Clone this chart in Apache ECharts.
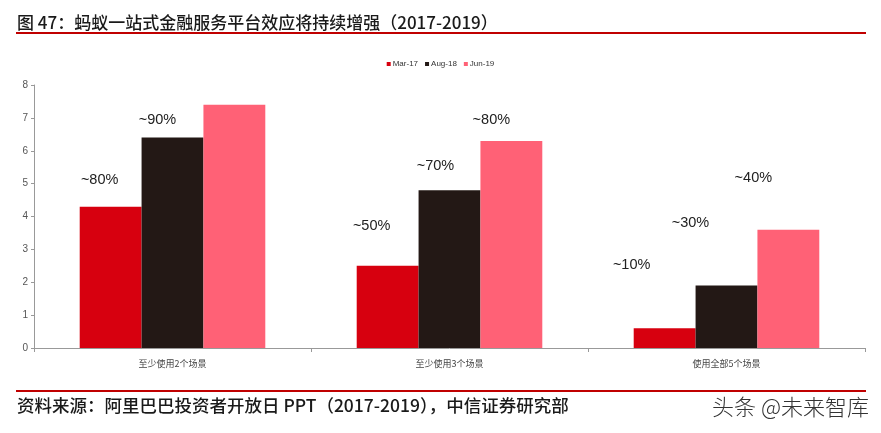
<!DOCTYPE html>
<html>
<head>
<meta charset="utf-8">
<script src="https://cdn.jsdelivr.net/npm/echarts@6/dist/echarts.min.js"></script>
<style>
html,body{margin:0;padding:0;background:#fff;}
#c{width:881px;height:433px;}
</style>
</head>
<body>
<div id="c"></div>
<script>
const categories = ['至少使用2个场景', '至少使用3个场景', '使用全部5个场景'];
const seriesNames = ['Mar-17', 'Aug-18', 'Jun-19'];
const mar17 = [4.3, 2.5, 0.6];
const aug18 = [6.4, 4.8, 1.9];
const jun19 = [7.4, 6.3, 3.6];
const mar17Labels = ['~80%', '~50%', '~10%'];
const aug18Labels = ['~90%', '~70%', '~30%'];
const jun19Labels = ['', '~80%', '~40%'];
const yTicks = [0, 1, 2, 3, 4, 5, 6, 7, 8];

// label placement offsets (styling only)
const offsets = [
  [[-11, -14], [-16, -27], [-33, -51]],
  [[-15, -5], [-14, -12], [-36, -50]],
  [[0, 0], [-20, -8], [-35, -39]]
];
const colors = ['#D7000F', '#231815', '#FF6176'];
const narrow = "'Liberation Sans Narrow', 'Arial Narrow', 'Liberation Sans', Arial, sans-serif";

function makeSeries(idx, values, labels) {
  return {
    name: seriesNames[idx],
    type: 'bar',
    barGap: '0%',
    barCategoryGap: '33%',
    itemStyle: { color: colors[idx] },
    emphasis: { disabled: true },
    data: values.map((v, i) => ({
      value: v,
      label: {
        show: labels[i] !== '',
        position: 'top',
        distance: 5,
        offset: offsets[idx][i],
        formatter: () => labels[i],
        fontSize: 14.5,
        fontFamily: narrow,
        color: '#222'
      }
    }))
  };
}

const chart = echarts.init(document.getElementById('c'), null, { renderer: 'canvas' });
chart.setOption({
  animation: false,
  backgroundColor: '#fff',
  title: {
    text: '图 47：蚂蚁一站式金融服务平台效应将持续增强（2017-2019）',
    left: 12,
    top: 9,
    textStyle: {
      fontSize: 17,
      fontWeight: 500,
      color: '#1a1a1a',
      fontFamily: "'Noto Sans CJK SC', 'Liberation Sans', sans-serif"
    }
  },
  legend: {
    top: 55,
    left: 'center',
    itemWidth: 4,
    itemHeight: 4,
    itemGap: 7,
    icon: 'rect',
    selectedMode: false,
    textStyle: { fontSize: 8, color: '#333', fontFamily: narrow, padding: [0, 0, 0, -3] },
    data: seriesNames
  },
  grid: { left: 34, right: 16, top: 85, bottom: 85, containLabel: false },
  xAxis: {
    type: 'category',
    data: categories,
    axisLine: { lineStyle: { color: '#999', width: 1 } },
    axisTick: { show: true, length: 4, lineStyle: { color: '#999' } },
    axisLabel: {
      fontSize: 9,
      color: '#444',
      margin: 11,
      fontFamily: "'Noto Sans CJK SC', sans-serif"
    }
  },
  yAxis: {
    type: 'value',
    min: yTicks[0],
    max: yTicks[yTicks.length - 1],
    interval: 1,
    splitLine: { show: false },
    axisLine: { show: true, lineStyle: { color: '#999', width: 1 } },
    axisTick: { show: true, length: 3, lineStyle: { color: '#999' } },
    axisLabel: { fontSize: 10, color: '#555', margin: 6, fontFamily: narrow }
  },
  graphic: [
    { type: 'rect', shape: { x: 16, y: 32, width: 850, height: 2 }, style: { fill: '#C00000' }, silent: true },
    { type: 'rect', shape: { x: 16, y: 390, width: 850, height: 2 }, style: { fill: '#C00000' }, silent: true },
    {
      type: 'text', left: 17, top: 397, silent: true,
      style: {
        text: '资料来源：阿里巴巴投资者开放日 PPT（2017-2019），中信证券研究部',
        fontSize: 17.5, fill: '#1a1a1a', fontWeight: 500,
        fontFamily: "'Noto Sans CJK SC', 'Liberation Sans', sans-serif"
      }
    },
    {
      type: 'text', right: 12, top: 396, silent: true,
      style: {
        text: '头条 @未来智库',
        fontSize: 22, fill: '#333', fontWeight: 300,
        fontFamily: "'Noto Sans CJK SC', sans-serif"
      }
    }
  ],
  series: [
    makeSeries(0, mar17, mar17Labels),
    makeSeries(1, aug18, aug18Labels),
    makeSeries(2, jun19, jun19Labels)
  ]
});
</script>
</body>
</html>
